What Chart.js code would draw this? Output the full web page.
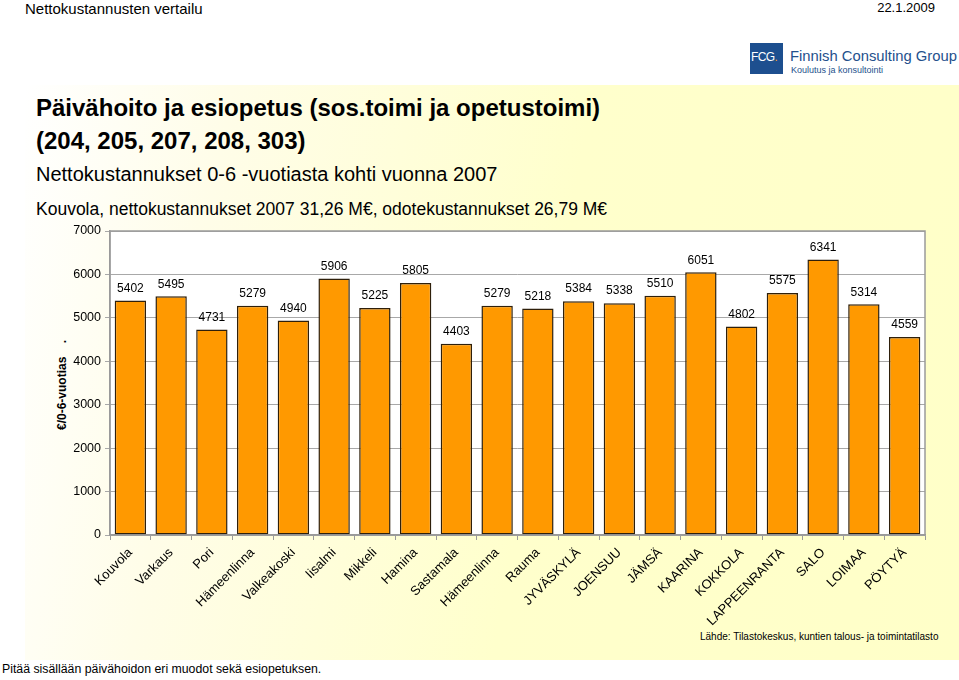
<!DOCTYPE html>
<html><head><meta charset="utf-8">
<script src="https://cdn.jsdelivr.net/npm/chart.js@4/dist/chart.umd.min.js"></script>
<style>
html,body{margin:0;padding:0;background:#fff;width:959px;height:680px;overflow:hidden;font-family:"Liberation Sans",Arial,sans-serif;}
#panel{position:absolute;left:25px;top:85px;width:934px;height:575px;
 background:linear-gradient(100deg,#ffffff 0%,#fffde8 20%,#ffffcc 55%,#ffffc8 100%);}
.t{position:absolute;white-space:nowrap;color:#000;}
#wrap{position:absolute;left:0;top:0;width:959px;height:680px;}
</style></head><body>
<div id="panel"></div>
<div class="t" style="left:25px;top:0px;font-size:15px;">Nettokustannusten vertailu</div>
<div class="t" style="right:24px;top:0px;font-size:13px;">22.1.2009</div>
<div style="position:absolute;left:750px;top:43px;width:33px;height:31px;background:#1d4f8f;"></div>
<div class="t" style="left:751px;top:50px;font-size:12px;color:#fff;letter-spacing:-0.6px;">FCG<span style="color:#f39a1e">.</span></div>
<div class="t" style="left:790px;top:48px;font-size:14.8px;color:#24508c;">Finnish Consulting Group</div>
<div class="t" style="left:791px;top:65px;font-size:9px;color:#24508c;">Koulutus ja konsultointi</div>
<div class="t" style="left:36px;top:91px;font-size:24px;font-weight:bold;line-height:33px;">Päivähoito ja esiopetus (sos.toimi ja opetustoimi)<br>(204, 205, 207, 208, 303)</div>
<div class="t" style="left:36px;top:163px;font-size:20px;">Nettokustannukset 0-6 -vuotiasta kohti vuonna 2007</div>
<div class="t" style="left:36px;top:199px;font-size:17.5px;">Kouvola, nettokustannukset 2007 31,26 M€, odotekustannukset 26,79 M€</div>
<div class="t" style="left:700px;top:631px;font-size:10px;">Lähde: Tilastokeskus, kuntien talous- ja toimintatilasto</div>
<div class="t" style="left:2px;top:662px;font-size:12.3px;">Pitää sisällään päivähoidon eri muodot sekä esiopetuksen.</div>
<div class="t" style="left:62px;top:385px;font-size:12px;font-weight:bold;transform:translate(-50%,-50%) rotate(-90deg);">€/0-6-vuotias&nbsp;&nbsp;&nbsp;&nbsp;.</div>
<div id="wrap"><canvas id="c" width="959" height="680"></canvas></div>
<script>
const categories = ["Kouvola","Varkaus","Pori","Hämeenlinna","Valkeakoski","Iisalmi","Mikkeli","Hamina","Sastamala","Hämeenlinna","Rauma","JYVÄSKYLÄ","JOENSUU","JÄMSÄ","KAARINA","KOKKOLA","LAPPEENRANTA","SALO","LOIMAA","PÖYTYÄ"];
const values = [5402,5495,4731,5279,4940,5906,5225,5805,4403,5279,5218,5384,5338,5510,6051,4802,5575,6341,5314,4559];
const yTicks = [0,1000,2000,3000,4000,5000,6000,7000];

const plotBg = {
  id:'plotBg',
  beforeDraw(chart){
    const {ctx,chartArea:a}=chart;
    ctx.save();ctx.fillStyle='#ffffff';ctx.fillRect(a.left,a.top,a.right-a.left,a.bottom-a.top);ctx.restore();
  },
  afterDatasetsDraw(chart){
    const {ctx}=chart;
    const meta=chart.getDatasetMeta(0);
    ctx.save();
    ctx.font='12px "Liberation Sans", Arial, sans-serif';
    ctx.fillStyle='#000';ctx.textAlign='center';ctx.textBaseline='bottom';
    meta.data.forEach((bar,i)=>{ctx.fillText(String(chart.data.datasets[0].data[i]),bar.x,bar.y-6);});
    ctx.restore();
  },
  afterDraw(chart){
    const {ctx,chartArea:a}=chart;
    ctx.save();ctx.strokeStyle='#9a9a9a';ctx.lineWidth=1.5;
    ctx.strokeRect(a.left,a.top,a.right-a.left,a.bottom-a.top);ctx.restore();
  }
};

new Chart(document.getElementById('c'),{
  type:'bar',
  data:{labels:categories,datasets:[{data:values,backgroundColor:'#ff9900',borderColor:'#2e1f0a',borderWidth:1.5,borderSkipped:false,barPercentage:0.77,categoryPercentage:1}]},
  options:{
    responsive:false,animation:false,
    layout:{padding:{left:0,right:34,top:231,bottom:0}},
    plugins:{legend:{display:false},tooltip:{enabled:false}},
    scales:{
      x:{
        afterFit(s){s.height=145;},
        grid:{offset:true,drawOnChartArea:false,tickLength:5,color:'#9a9a9a'},
        border:{display:true,color:'#9a9a9a',width:1.5},
        ticks:{maxRotation:45,minRotation:45,padding:5,color:'#000',font:{family:'"Liberation Sans", Arial, sans-serif',size:13}}
      },
      y:{
        min:0,max:7000,
        afterFit(s){s.width=110;},
        afterBuildTicks(s){s.ticks=yTicks.map(v=>({value:v}));},
        grid:{color:'#a8a8a8',lineWidth:1,tickLength:5},
        border:{display:true,color:'#9a9a9a',width:1.5},
        ticks:{padding:4,color:'#000',callback:v=>String(v),font:{family:'"Liberation Sans", Arial, sans-serif',size:12.5}}
      }
    }
  },
  plugins:[plotBg]
});
</script>
</body></html>
